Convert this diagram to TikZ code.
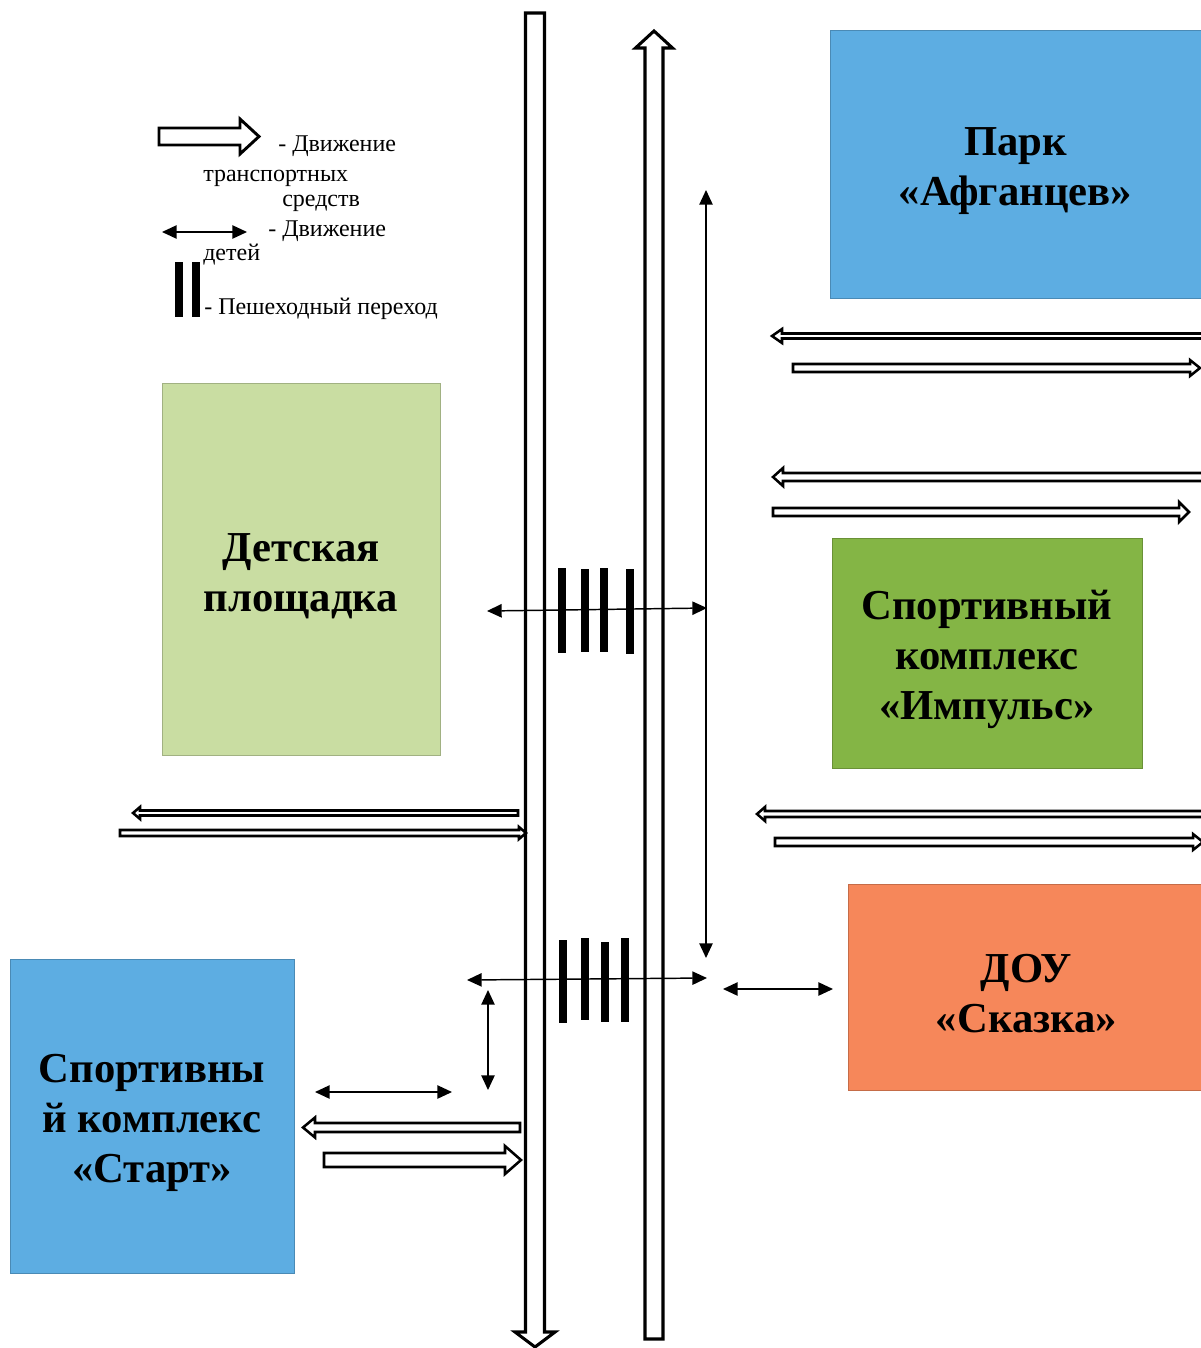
\documentclass[tikz,border=0pt]{standalone}
\usepackage{fontspec}
\setmainfont{Liberation Serif}
\usetikzlibrary{arrows.meta}
\definecolor{parkblue}{RGB}{93,173,226}
\definecolor{playgreen}{RGB}{201,221,162}
\definecolor{sportgreen}{RGB}{132,181,69}
\definecolor{douorange}{RGB}{246,135,90}
\tikzset{
  roadline/.style={draw=black, line width=1.9pt, line join=miter},
  bigroad/.style={roadline, line width=2.3pt},
  kidarrow/.style={line width=1.1pt, {Triangle[length=11pt,width=10pt]}-{Triangle[length=11pt,width=10pt]}},
  place/.style={draw=#1!80!black, fill=#1, line width=0.6pt, inner sep=0pt},
  placetext/.style={inner sep=0pt, align=center, font=\fontsize{32}{37.5}\selectfont\bfseries},
  zebra/.style={fill=black},
  legendtext/.style={font=\fontsize{18}{21}\selectfont, anchor=base west, inner sep=0pt},
}
% horizontal hollow arrow: [opts]{tail x}{tip x}{y}{half shaft}{half head}{head length}
\newcommand\hroad[7][]{\draw[roadline,#1] (#2,{#4-#5}) -- ({#3-(#7)*sign(#3-#2)},{#4-#5}) -- ({#3-(#7)*sign(#3-#2)},{#4-#6}) -- (#3,#4) -- ({#3-(#7)*sign(#3-#2)},{#4+#6}) -- ({#3-(#7)*sign(#3-#2)},{#4+#5}) -- (#2,{#4+#5}) -- cycle;}
% vertical hollow arrow: [opts]{tail y}{tip y}{x}{half shaft}{half head}{head length}
\newcommand\vroad[7][]{\draw[roadline,#1] ({#4-#5},#2) -- ({#4-#5},{#3-(#7)*sign(#3-#2)}) -- ({#4-#6},{#3-(#7)*sign(#3-#2)}) -- (#4,#3) -- ({#4+#6},{#3-(#7)*sign(#3-#2)}) -- ({#4+#5},{#3-(#7)*sign(#3-#2)}) -- ({#4+#5},#2) -- cycle;}
\newcommand\zbar[3]{\fill[zebra] ({#1-4},#2) rectangle ({#1+4},#3);}
\begin{document}
\begin{tikzpicture}[x=0.75pt,y=-0.75pt]
\useasboundingbox (0,0) rectangle (1200,1348);

% places
\node[place=parkblue, minimum width=281.25pt, minimum height=201pt] (park) at (1017.5,164) {};
\node[placetext] (parkt) at ([xshift=-1.5pt,yshift=-5.3pt]park.center) {Парк\\«Афганцев»};
\node[place=playgreen, minimum width=208.5pt, minimum height=279pt] (play) at (301,569) {};
\node[placetext] (playt) at ([yshift=-5.3pt]play.center) {Детская\\площадка};
\node[place=sportgreen, minimum width=232.5pt, minimum height=172.5pt] (impuls) at (987,653) {};
\node[placetext] (impulst) at ([yshift=-4.5pt]impuls.center) {Спортивный\\комплекс\\«Импульс»};
\node[place=douorange, minimum width=267.75pt, minimum height=154.5pt] (dou) at (1026.5,987) {};
\node[placetext] (dout) at ([yshift=-5.3pt]dou.center) {ДОУ\\«Сказка»};
\node[place=parkblue, minimum width=213pt, minimum height=235.5pt] (start) at (152,1116) {};
\node[placetext] (startt) at ([yshift=-5pt]start.center) {Спортивны\\й комплекс\\«Старт»};

% main vertical roads
\vroad[bigroad]{13}{1347}{535}{9.5}{20}{15}
\vroad[bigroad]{1339}{31}{654}{9}{18.5}{17}

% horizontal roads, right side
\hroad{1210}{772}{336}{2.5}{7}{10}
\hroad{793}{1200}{368}{4}{8}{10}
\hroad{1210}{773}{477}{4}{9}{10}
\hroad{773}{1189}{512}{4}{10}{10}
\hroad{1210}{757}{814}{3}{7}{8}
\hroad{775}{1203}{842}{4}{8}{10}
% horizontal roads, left side
\hroad{518}{133}{813}{2.5}{6}{7}
\hroad{120}{526}{833}{3}{6}{7}
\hroad{520}{303}{1127.5}{4.5}{10}{12}
\hroad{324}{521}{1160}{7}{14}{16}

% pedestrian crossings
\zbar{562}{568}{653}\zbar{585}{569}{652}\zbar{604}{568}{652}\zbar{630}{569}{654}
\zbar{563}{940}{1023}\zbar{585}{938}{1020}\zbar{605}{942}{1022}\zbar{625}{938}{1022}

% children movement
\coordinate (va) at (706,190); \coordinate (vb) at (706,958);
\draw[kidarrow] (va) -- (vb);
\coordinate (c1a) at (487,611); \coordinate (c1b) at (707,608);
\draw[kidarrow] (c1a) -- (c1b);
\coordinate (c2a) at (467,980); \coordinate (c2b) at (707,978);
\draw[kidarrow] (c2a) -- (c2b);
\coordinate (da) at (723,989); \coordinate (db) at (833,989);
\draw[kidarrow] (da) -- (db);
\coordinate (sa) at (488,990); \coordinate (sb) at (488,1090);
\draw[kidarrow] (sa) -- (sb);
\coordinate (ta) at (315,1092); \coordinate (tb) at (452,1092);
\draw[kidarrow] (ta) -- (tb);

% legend
\hroad[line width=2.2pt]{159}{259}{136.5}{8.5}{17.5}{19}
\node[legendtext] (lg1) at (278,152) {- Движение};
\node[legendtext] (lg2) at (203,182) {транспортных};
\node[legendtext] (lg3) at (282,207) {средств};
\coordinate (la) at (162,232); \coordinate (lb) at (247,232);
\draw[kidarrow] (la) -- (lb);
\node[legendtext] (lg4) at (268,237) {- Движение};
\node[legendtext] (lg5) at (203,260) {детей};
\fill[zebra] (175,262) rectangle (183,317);
\fill[zebra] (192,262) rectangle (200,317);
\node[legendtext] (lg6) at (204,314) {- Пешеходный переход};
\end{tikzpicture}
\end{document}
